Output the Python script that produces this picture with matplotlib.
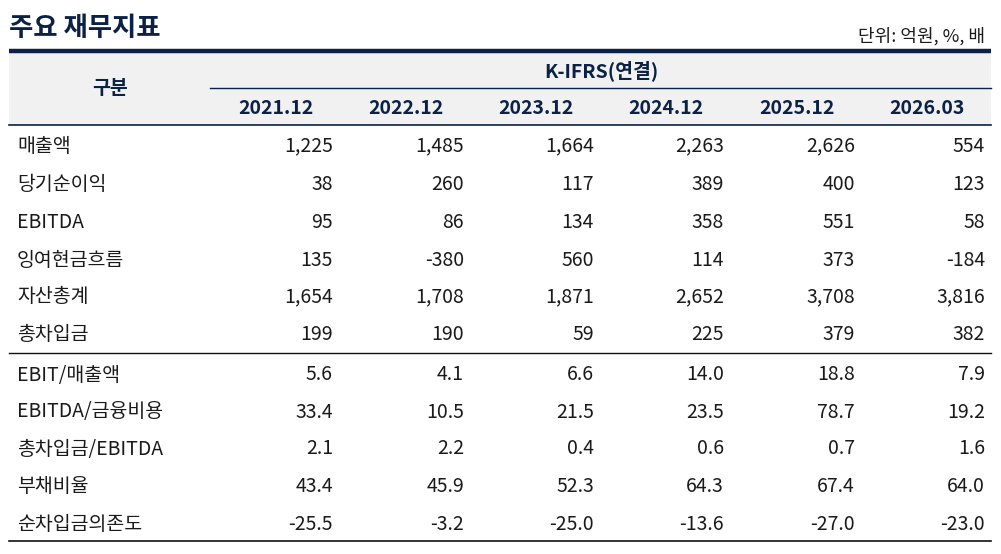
import matplotlib
matplotlib.use("Agg")
import matplotlib.pyplot as plt
from matplotlib.patches import Rectangle

plt.rcParams['font.family'] = ['Noto Sans CJK KR', 'DejaVu Sans']

title = "주요 재무지표"
unit = "단위: 억원, %, 배"
group_label = "구분"
basis = "K-IFRS(연결)"
periods = ["2021.12", "2022.12", "2023.12", "2024.12", "2025.12", "2026.03"]

rows_amount = ["매출액", "당기순이익", "EBITDA", "잉여현금흐름", "자산총계", "총차입금"]
amount_values = [
    [1225, 1485, 1664, 2263, 2626, 554],
    [38, 260, 117, 389, 400, 123],
    [95, 86, 134, 358, 551, 58],
    [135, -380, 560, 114, 373, -184],
    [1654, 1708, 1871, 2652, 3708, 3816],
    [199, 190, 59, 225, 379, 382],
]
rows_ratio = ["EBIT/매출액", "EBITDA/금융비용", "총차입금/EBITDA", "부채비율", "순차입금의존도"]
ratio_values = [
    [5.6, 4.1, 6.6, 14.0, 18.8, 7.9],
    [33.4, 10.5, 21.5, 23.5, 78.7, 19.2],
    [2.1, 2.2, 0.4, 0.6, 0.7, 1.6],
    [43.4, 45.9, 52.3, 64.3, 67.4, 64.0],
    [-25.5, -3.2, -25.0, -13.6, -27.0, -23.0],
]

NAVY = "#0b2145"
TEXT = "#1a1a1a"
HEAD_BG = "#f1f1f1"

W, H = 1001, 554
fig = plt.figure(figsize=(W / 100, H / 100), dpi=100)
ax = fig.add_axes([0, 0, 1, 1])
ax.set_xlim(0, W)
ax.set_ylim(H, 0)
ax.axis("off")

left, right = 9, 991
fs = 14.0
dy = 2.0  # baseline correction for CJK font centering

# title and unit
ax.text(9, 27 + dy, title, fontsize=19, fontweight="bold", color=NAVY, va="center", ha="left")
ax.text(985, 34 + dy, unit, fontsize=13, color=TEXT, va="center", ha="right")

# header background
ax.add_patch(Rectangle((left, 51), right - left, 74, facecolor=HEAD_BG, edgecolor="none"))
ax.plot([left, right], [51, 51], color=NAVY, lw=3.2, solid_capstyle="butt")
ax.plot([210, right], [87.5, 87.5], color=NAVY, lw=1.0)
ax.plot([left, right], [125, 125], color=NAVY, lw=1.2)

col_centers = [276, 406, 536, 666, 797, 927]
col_right = [333, 464, 594, 724, 855, 985]

ax.text(110, 86 + dy, group_label, fontsize=fs, color=NAVY, fontweight="bold", ha="center", va="center")
ax.text(601, 69 + dy, basis, fontsize=fs, color=NAVY, fontweight="bold", ha="center", va="center")
for c, p in zip(col_centers, periods):
    ax.text(c, 106 + dy, p, fontsize=fs, color=NAVY, fontweight="bold", ha="center", va="center")

# body rows
y_amount = [144, 182, 220, 258, 295, 333]
for y, name, vals in zip(y_amount, rows_amount, amount_values):
    ax.text(17, y + dy, name, fontsize=fs, color=TEXT, ha="left", va="center")
    for xr, v in zip(col_right, vals):
        ax.text(xr, y + dy, f"{v:,}", fontsize=fs, color=TEXT, ha="right", va="center")

ax.plot([left, right], [352.5, 352.5], color="#111111", lw=1.0)

y_ratio = [373, 410, 447, 485, 522]
for y, name, vals in zip(y_ratio, rows_ratio, ratio_values):
    ax.text(17, y + dy, name, fontsize=fs, color=TEXT, ha="left", va="center")
    for xr, v in zip(col_right, vals):
        ax.text(xr, y + dy, f"{v:.1f}", fontsize=fs, color=TEXT, ha="right", va="center")

ax.plot([left, right], [541, 541], color="#111111", lw=1.2)

fig.savefig("out.png", dpi=100, facecolor="white")
